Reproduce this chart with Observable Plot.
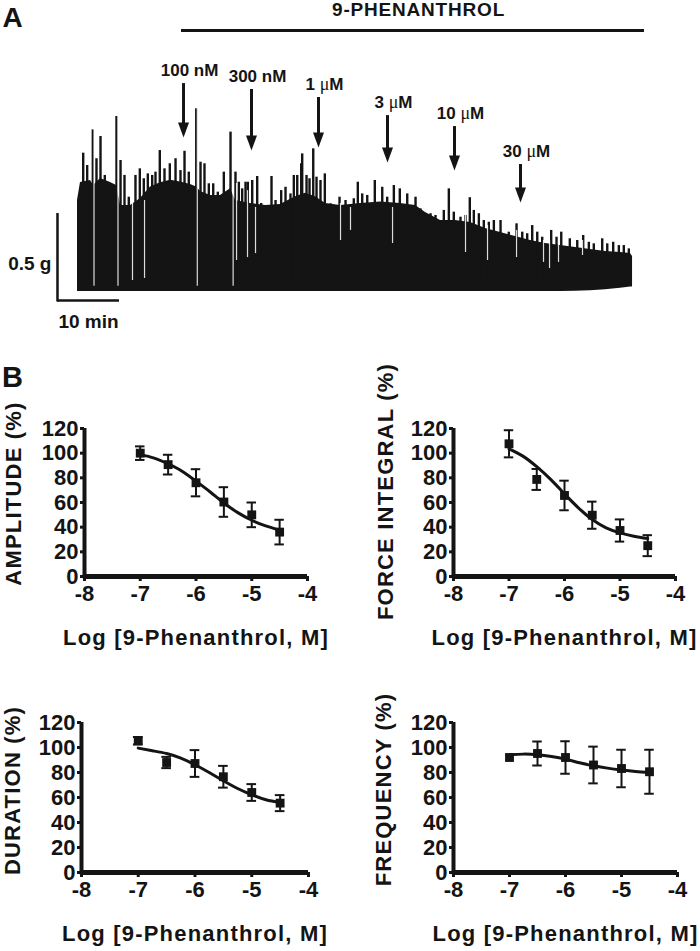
<!DOCTYPE html>
<html><head><meta charset="utf-8">
<script src="https://cdn.jsdelivr.net/npm/d3@7"></script>
<script src="https://cdn.jsdelivr.net/npm/@observablehq/plot@0.6"></script>
<style>
body{margin:0;background:#fff;}
#fig{position:relative;width:700px;height:951px;overflow:hidden;background:#fff;}
#fig svg{position:absolute;}
</style></head><body><div id="fig"></div>
<script>
// ---------- Panel A: contraction recording (time in min, force in g) ----------
const bodyTime = [0,0.48,2.10,2.58,3.71,5.32,6.29,6.94,8.55,10.16,11.77,13.39,15.0,16.61,18.23,19.19,19.84,21.45,23.06,24.68,25.48,27.90,30.32,32.74,35.16,36.77,38.39,40.0,42.42,45.65,48.87,52.10,54.52,56.13,58.55,60.97,63.39,65.81,68.23,70.65,73.06,75.48,77.90,80.32,82.74,85.16,87.58,89.19,89.52];
const bodyTop = [0.523,0.626,0.638,0.609,0.649,0.626,0.609,0.494,0.494,0.534,0.600,0.625,0.640,0.630,0.615,0.600,0.575,0.552,0.552,0.590,0.523,0.506,0.494,0.500,0.545,0.565,0.545,0.506,0.494,0.506,0.515,0.506,0.494,0.454,0.408,0.408,0.397,0.362,0.339,0.316,0.293,0.276,0.264,0.253,0.241,0.230,0.224,0.218,0.201];
const bodyBase = [0,0,0,0,0,0,0,0,0,0,0,0,0,0,0,0,0,0,0,0,0,0,0,0,0,0,0,0,0,0,0,0,0,0,0,0,0,0,0,0,0,0,0,0.002,0.005,0.010,0.018,0.026,0.026];
const spikeTime = [0.92,1.56,2.47,3.06,3.71,4.40,5.05,5.60,6.29,6.94,7.58,8.27,9.35,10.05,10.69,11.34,12.05,12.58,13.27,14.03,14.89,15.81,16.61,17.26,17.95,19.15,19.84,20.48,21.18,21.89,22.63,23.60,24.68,
  25.48,26.02,26.56,27.10,27.47,28.18,28.98,29.63,30.60,31.29,31.94,32.85,33.55,34.35,34.89,35.44,36.08,36.24,36.94,37.42,38.02,38.55,39.19,39.89,40.81,42.26,43.23,44.56,45.21,45.92,46.73,47.95,49.15,49.95,51.02,51.98,53.18,54.52,55.32,56.94,57.74,59.08,59.89,60.69,61.77,62.58,63.27,63.92,64.73,65.53,66.34,67.15,68.23,69.56,70.81,71.73,72.53,73.34,74.15,74.95,76.40,77.26,78.02,79.40,80.60,81.56,82.47,83.27,84.63,85.44,86.40,87.31,88.11,88.92];
const spikePeak = [0.795,0.724,0.929,0.763,0.891,0.667,0.590,0.580,1.006,0.753,0.667,0.542,0.667,0.705,0.648,0.676,0.667,0.686,0.810,0.705,0.734,0.763,0.695,0.806,0.686,1.050,0.743,0.734,0.619,0.619,0.571,0.686,0.916,
  0.686,0.628,0.590,0.628,0.628,0.638,0.661,0.506,0.494,0.661,0.523,0.580,0.599,0.561,0.667,0.667,0.734,0.791,0.667,0.648,0.820,0.657,0.638,0.676,0.504,0.542,0.523,0.533,0.628,0.561,0.552,0.638,0.599,0.542,0.609,0.590,0.561,0.542,0.475,0.447,0.437,0.466,0.590,0.456,0.427,0.437,0.539,0.466,0.447,0.408,0.398,0.408,0.408,0.341,0.389,0.341,0.332,0.379,0.341,0.312,0.351,0.312,0.341,0.303,0.293,0.322,0.283,0.274,0.303,0.274,0.283,0.264,0.264,0.245];
// light streaks inside the dense trace (time, top and bottom of each gap)
const streakTime = [2.66,6.53,19.32,25.1,8.87,10.81,25.65,27.42,28.71,42.42,44.03,50.81,62.58,66.13,70.81,75.16,76.13,77.58,81.45];
const streakTop = [1.1,1.1,1.1,1.1,0.523,0.523,0.621,0.580,0.483,0.506,0.483,0.483,0.466,0.379,0.351,0.293,0.293,0.293,0.293];
const streakBottom = [0.03,0.03,0.03,0.03,0.063,0.075,0.178,0.195,0.218,0.293,0.351,0.276,0.224,0.178,0.195,0.167,0.132,0.167,0.207];
const doseLabels = ["100 nM","300 nM","1 μM","3 μM","10 μM","30 μM"];
const doseTime = [17.1,28.06,38.87,50.0,60.8,71.45];
const arrowTop = [1.195,1.161,1.115,1.011,0.948,0.730];
const arrowTip = [0.885,0.810,0.828,0.741,0.695,0.511];
const drugName = "9-PHENANTHROL";
const drugStart = 16.77, drugEnd = 91.45, drugLevel = 1.5;
const scaleMinutes = 10, scaleGrams = 0.5;
const scaleOriginT = -3.23, scaleOriginG = -0.052;

// ---------- Panel B: concentration-response ----------
const logConc = [-7,-6.5,-6,-5.5,-5,-4.5];
const amplitudeMean = [100,90.7,76,60.4,50,36];
const amplitudeSem = [5.5,8,11,12,10,10];
const forceMean = [107.6,78.7,65.7,49.7,37.3,25];
const forceSem = [11,8.5,12,11,9,8.5];
const durationMean = [105.4,88,87.2,76.6,64,55.5];
const durationSem = [3,4.5,10.7,8.7,6.7,6.4];
const frequencyMean = [92,95.2,92,86,83.2,80.6];
const frequencySem = [0,9.6,13,14.7,15,17.6];
const fitLog = [-7,-6.75,-6.5,-6.25,-6,-5.75,-5.5,-5.25,-5,-4.75,-4.5];
const amplitudeFit = [98.8,96,91.3,85.4,77.3,68.7,59.6,51.8,45.6,41,37.6];
const forceFit = [103.5,97.6,89,78.7,67,55.7,46.2,39.5,35.4,32.7,30.8];
const durationFit = [99.5,97.4,95.2,91.5,86.2,80,73.4,67.2,62.2,58.2,56];
const frequencyFit = [94.2,94.7,94.2,92.8,90.7,87.8,85.4,83.5,82,80.8,80];
const xTicks = [-8,-7,-6,-5,-4];
const yTicks = [0,20,40,60,80,100,120];
const xLabel = "Log [9-Phenanthrol, M]";

const ink = "#141414";
const font = "'Liberation Sans', Arial, Helvetica, sans-serif";
const fig = document.getElementById("fig");

function place(svg, left, top) {
  svg.style.left = left + "px";
  svg.style.top = top + "px";
  fig.appendChild(svg);
  return svg;
}

// ---------- build Panel A ----------
const body = bodyTime.map((t, i) => ({t, top: bodyTop[i], base: bodyBase[i]}));
const spikes = spikeTime.map((t, i) => ({t, g: spikePeak[i]}));
const streaks = streakTime.map((t, i) => ({t, top: streakTop[i], bottom: streakBottom[i]}));
const doses = doseLabels.map((label, i) => ({label, t: doseTime[i], top: arrowTop[i], tip: arrowTip[i]}));
const arrowHead = {draw(ctx) { const w = 5.5, h = 15; ctx.moveTo(-w, -h); ctx.lineTo(w, -h); ctx.lineTo(0, 0); ctx.closePath(); }};

const panelA = Plot.plot({
  width: 700, height: 340,
  marginTop: 0, marginBottom: 0, marginLeft: 0, marginRight: 0,
  x: {domain: [-12.42, 100.48], range: [0, 700], axis: null},
  y: {domain: [-0.2816, 1.6724], range: [340, 0], axis: null},
  style: {fontFamily: font, color: ink, background: "transparent"},
  marks: [
    Plot.areaY(body, {x: "t", y1: "base", y2: "top", fill: ink}),
    Plot.ruleX(spikes, {x: "t", y1: 0.03, y2: "g", stroke: ink, strokeWidth: 2.4}),
    Plot.ruleX(streaks, {x: "t", y1: "bottom", y2: "top", stroke: "#fff", strokeWidth: 1.2, strokeOpacity: 0.85}),
    Plot.ruleY([drugLevel], {x1: drugStart, x2: drugEnd, stroke: ink, strokeWidth: 3}),
    Plot.text([drugName], {x: (drugStart + drugEnd) / 2 + 0.9, y: drugLevel + 0.121, fontSize: 19, fontWeight: "bold", fill: ink}),
    Plot.ruleX(doses, {x: "t", y1: "top", y2: d => d.tip + 0.05, stroke: ink, strokeWidth: 3}),
    Plot.dot(doses, {x: "t", y: "tip", symbol: arrowHead, fill: ink, stroke: "none"}),
    Plot.text(doses, {x: "t", y: "top", text: "label", dy: -13, dx: 6, fontSize: 17, fontWeight: "bold", fill: ink}),
    Plot.ruleX([scaleOriginT], {y1: scaleOriginG - 0.008, y2: scaleOriginG + scaleGrams, stroke: ink, strokeWidth: 2.5}),
    Plot.ruleY([scaleOriginG], {x1: scaleOriginT, x2: scaleOriginT + scaleMinutes, stroke: ink, strokeWidth: 2.5}),
    Plot.text([scaleGrams + " g"], {x: scaleOriginT, y: scaleOriginG + 0.213, textAnchor: "end", dx: -6, fontSize: 19, fontWeight: "bold", fill: ink}),
    Plot.text([scaleMinutes + " min"], {x: scaleOriginT + scaleMinutes / 2, y: scaleOriginG, dy: 21, fontSize: 19, fontWeight: "bold", fill: ink}),
    Plot.text(["A"], {frameAnchor: "top-left", dx: 12, dy: 18, fontSize: 28, fontWeight: "bold", fill: ink, textAnchor: "middle", lineAnchor: "middle"})
  ]
});
d3.select(panelA).selectAll("text").each(function() {
  const s = this.textContent;
  if (s === drugName) d3.select(this).style("letter-spacing", "0.8px");
  if (s.includes("μ")) {
    const parts = s.split("μ");
    const sel = d3.select(this); sel.text(null);
    sel.append("tspan").text(parts[0]);
    sel.append("tspan").attr("font-weight", "normal").attr("font-family", "'Liberation Serif', serif").attr("font-size", 18).text("μ");
    sel.append("tspan").text(parts[1]);
  }
});
place(panelA, 0, 0);

// ---------- build Panel B ----------
function doseChart(o) {
  const pts = logConc.map((x, i) => ({x, y: o.mean[i], e: o.sem[i]}));
  const fit = fitLog.map((x, i) => ({x, y: o.fit[i]}));
  const withErr = pts.filter(d => d.e > 0);
  const cap = 0.085;
  const svg = Plot.plot({
    width: o.width, height: o.height,
    marginLeft: o.mL, marginRight: o.mR, marginTop: o.mT, marginBottom: o.mB,
    x: {domain: [-8, -4]},
    y: {domain: [0, 120]},
    style: {fontFamily: font, color: ink, background: "transparent", overflow: "visible"},
    marks: [
      Plot.axisX({ticks: xTicks, tickFormat: d => String(d), tickSize: 5, tickPadding: 4, strokeWidth: 3, fontSize: 22, fontWeight: "bold", label: null, fill: ink}),
      Plot.axisY({ticks: yTicks, tickFormat: d => String(d), tickSize: 4, tickPadding: 2, strokeWidth: 3, fontSize: 22, fontWeight: "bold", label: null, fill: ink}),
      Plot.ruleX([-8], {y1: -1, y2: 120, stroke: ink, strokeWidth: 4}),
      Plot.ruleY([0], {x1: -8.02, x2: -4, stroke: ink, strokeWidth: 5}),
      Plot.line(fit, {x: "x", y: "y", curve: "natural", stroke: ink, strokeWidth: 3}),
      Plot.ruleX(withErr, {x: "x", y1: d => d.y - d.e, y2: d => d.y + d.e, stroke: ink, strokeWidth: 2}),
      Plot.ruleY(withErr, {y: d => d.y + d.e, x1: d => d.x - cap, x2: d => d.x + cap, stroke: ink, strokeWidth: 2}),
      Plot.ruleY(withErr, {y: d => d.y - d.e, x1: d => d.x - cap, x2: d => d.x + cap, stroke: ink, strokeWidth: 2}),
      Plot.dot(pts, {x: "x", y: "y", symbol: "square", r: 5, fill: ink, stroke: "none"}),
      Plot.text([o.label], {frameAnchor: "left", rotate: -90, dx: o.labelDx, dy: o.labelDy, fontSize: 22, fontWeight: "bold", fill: ink, textAnchor: "middle", lineAnchor: "middle"}),
      Plot.text([xLabel], {frameAnchor: "bottom", dy: 61, fontSize: 22, fontWeight: "bold", fill: ink, textAnchor: "middle", lineAnchor: "middle"}),
      ...(o.letter ? [Plot.text([o.letter], {frameAnchor: "top-left", dx: -72, dy: -51, fontSize: 29, fontWeight: "bold", fill: ink, textAnchor: "middle", lineAnchor: "middle"})] : [])
    ]
  });
  d3.select(svg).selectAll("text").each(function() {
    const s = this.textContent;
    if (s === o.label || s === xLabel) d3.select(this).style("letter-spacing", "1.2px");
  });
  return place(svg, o.left, o.top);
}

doseChart({mean: amplitudeMean, sem: amplitudeSem, fit: amplitudeFit, label: "AMPLITUDE (%)", letter: "B",
  left: 0, top: 340, width: 350, height: 320, mL: 84, mR: 43, mT: 88, mB: 84, labelDx: -71, labelDy: -9});
doseChart({mean: forceMean, sem: forceSem, fit: forceFit, label: "FORCE INTEGRAL (%)",
  left: 350, top: 340, width: 350, height: 320, mL: 103, mR: 25, mT: 88, mB: 84, labelDx: -68, labelDy: -11});
doseChart({mean: durationMean, sem: durationSem, fit: durationFit, label: "DURATION (%)",
  left: 0, top: 640, width: 350, height: 311, mL: 81, mR: 42, mT: 82, mB: 79, labelDx: -69, labelDy: -7});
doseChart({mean: frequencyMean, sem: frequencySem, fit: frequencyFit, label: "FREQUENCY (%)",
  left: 350, top: 640, width: 350, height: 311, mL: 103, mR: 23, mT: 82, mB: 79, labelDx: -70, labelDy: -8});
</script></body></html>
